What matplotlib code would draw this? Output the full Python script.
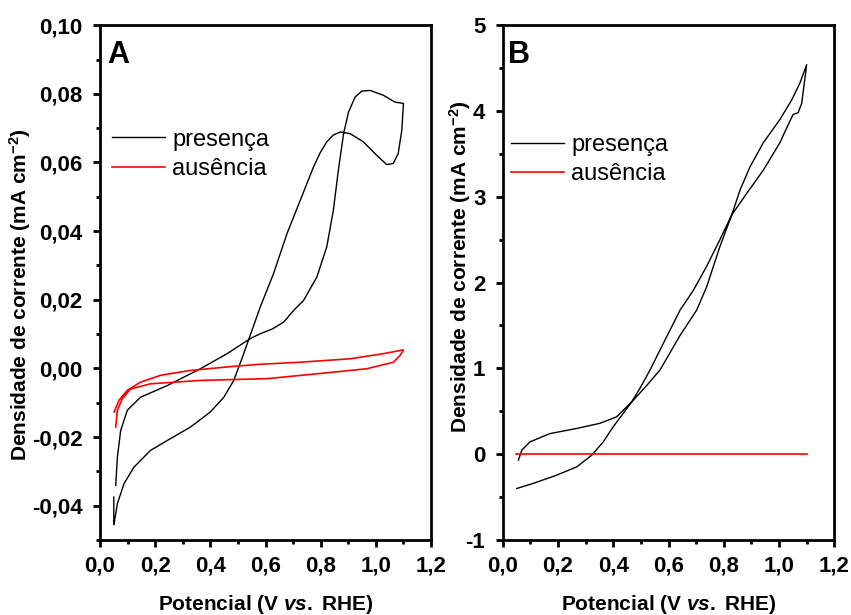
import matplotlib
matplotlib.use("Agg")
import matplotlib.pyplot as plt
from matplotlib.ticker import FixedLocator, FuncFormatter

# Panel A - voltammogram, presence (black) and absence (red)
a_pres_x = [0.050, 0.050, 0.051, 0.063, 0.087, 0.123, 0.183, 0.244, 0.328, 0.400, 0.449, 0.485,
            0.521, 0.551, 0.581, 0.629, 0.678, 0.726, 0.774, 0.798, 0.822, 0.846, 0.871, 0.907,
            0.955, 1.003, 1.039, 1.063, 1.081, 1.094, 1.100,
            1.069, 1.027, 0.979, 0.949, 0.925, 0.901, 0.883, 0.864, 0.846, 0.822, 0.786, 0.738,
            0.702, 0.666, 0.625, 0.581, 0.545, 0.461, 0.364, 0.244, 0.147, 0.099, 0.075, 0.063,
            0.057]
a_pres_y = [-0.0375, -0.0455, -0.0453, -0.0394, -0.0336, -0.0288, -0.0239, -0.0210, -0.0171,
            -0.0127, -0.0084, -0.0035, 0.0043, 0.0111, 0.0179, 0.0276, 0.0393, 0.0490, 0.0587,
            0.0628, 0.0660, 0.0680, 0.0689, 0.0684, 0.0660, 0.0621, 0.0594, 0.0597, 0.0626,
            0.0694, 0.0772,
            0.0776, 0.0796, 0.0810, 0.0808, 0.0791, 0.0747, 0.0684, 0.0577, 0.0461, 0.0354,
            0.0266, 0.0198, 0.0169, 0.0135, 0.0115, 0.0101, 0.0087, 0.0043, -0.0001, -0.0050,
            -0.0084, -0.0122, -0.0181, -0.0259, -0.0341]

a_aus_x = [0.051, 0.069, 0.099, 0.147, 0.220, 0.328, 0.485, 0.581, 0.726, 0.907, 1.028, 1.100,
           1.088, 1.064, 0.967, 0.846, 0.605, 0.364, 0.183, 0.111, 0.081, 0.063, 0.057]
a_aus_y = [-0.0127, -0.0093, -0.0064, -0.0040, -0.0020, -0.0006, 0.0006, 0.0012, 0.0018, 0.0028,
           0.0043, 0.0054, 0.0038, 0.0018, -0.0001, -0.0011, -0.0030, -0.0035, -0.0045, -0.0060,
           -0.0088, -0.0122, -0.0171]

# Panel B
b_pres_x = [0.051, 0.111, 0.195, 0.268, 0.322, 0.364, 0.400, 0.436, 0.467, 0.497, 0.533, 0.581,
            0.642, 0.690, 0.738, 0.786, 0.829, 0.883, 0.943, 1.003, 1.033, 1.051, 1.069, 1.082,
            1.090, 1.100,
            1.076, 1.046, 1.003, 0.943, 0.895, 0.859, 0.829, 0.786, 0.738, 0.702, 0.641, 0.569,
            0.521, 0.467, 0.412, 0.352, 0.268, 0.171, 0.099, 0.069, 0.057]
b_pres_y = [-0.40, -0.34, -0.245, -0.148, -0.012, 0.144, 0.32, 0.475, 0.61, 0.77, 0.98, 1.29,
            1.68, 1.91, 2.19, 2.50, 2.79, 3.04, 3.31, 3.63, 3.84, 3.96, 3.98, 4.09, 4.29, 4.54,
            4.33, 4.13, 3.90, 3.63, 3.35, 3.08, 2.79, 2.42, 1.95, 1.68, 1.38, 0.98, 0.80, 0.61,
            0.435, 0.36, 0.30, 0.24, 0.144, 0.047, -0.07]

b_aus_x = [0.048, 1.100]
b_aus_y = [0.0, 0.0]

labels = ["presença", "ausência"]
x_ticks = [0.0, 0.2, 0.4, 0.6, 0.8, 1.0, 1.2]
a_yticks = [-0.04, -0.02, 0.00, 0.02, 0.04, 0.06, 0.08, 0.10]
b_yticks = [-1, 0, 1, 2, 3, 4, 5]

plt.rcParams["font.family"] = "Liberation Sans"
plt.rcParams["mathtext.fontset"] = "custom"
plt.rcParams["mathtext.rm"] = "Liberation Sans:bold"
plt.rcParams["mathtext.it"] = "Liberation Sans:bold:italic"
plt.rcParams["mathtext.bf"] = "Liberation Sans:bold"


def comma(fmt):
    return FuncFormatter(lambda v, p: fmt.format(v).replace(".", ","))


def style_axes(ax, yticks, yfmt, ylim, minor_y):
    ax.set_xlim(0.0, 1.2)
    ax.set_ylim(*ylim)
    ax.xaxis.set_major_locator(FixedLocator(x_ticks))
    ax.xaxis.set_minor_locator(FixedLocator([0.1, 0.3, 0.5, 0.7, 0.9, 1.1]))
    ax.xaxis.set_major_formatter(comma("{:.1f}"))
    ax.yaxis.set_major_locator(FixedLocator(yticks))
    ax.yaxis.set_minor_locator(FixedLocator(minor_y))
    ax.yaxis.set_major_formatter(comma(yfmt))
    ax.tick_params(which="major", direction="out", length=5, width=2, pad=6, labelsize=16)
    ax.tick_params(axis="y", which="major", pad=7.5)
    ax.tick_params(which="minor", direction="out", length=3, width=2)
    for lab in ax.get_xticklabels() + ax.get_yticklabels():
        lab.set_fontweight("bold")
    for sp in ax.spines.values():
        sp.set_linewidth(2)
    ax.set_xlabel(r"Potencial (V $\mathit{vs.}$ RHE)", fontsize=15, fontweight="bold", labelpad=12)
    ax.set_ylabel(r"Densidade de corrente (mA cm$^{-2}$)", fontsize=15, fontweight="bold")


def add_legend(ax, x, y):
    ax.legend(loc="center left", bbox_to_anchor=(x, y), frameon=False, fontsize=17,
              handlelength=2.25, handletextpad=0.3, labelspacing=0.32, borderpad=0, borderaxespad=0)


fig = plt.figure(figsize=(8.51, 6.15), dpi=100)
ax1 = fig.add_axes([0.1175, 0.122, 0.389, 0.837])
ax2 = fig.add_axes([0.5907, 0.122, 0.3897, 0.837])

ax1.plot(a_pres_x, a_pres_y, color="black", lw=1.0, label=labels[0])
ax1.plot(a_aus_x, a_aus_y, color="red", lw=1.2, label=labels[1])
style_axes(ax1, a_yticks, "{:.2f}", (-0.05, 0.10), [-0.05, -0.03, -0.01, 0.01, 0.03, 0.05, 0.07, 0.09])
ax1.yaxis.set_label_coords(-0.202, 0.476)
ax1.text(0.021, 0.972, "A", transform=ax1.transAxes, fontsize=22, fontweight="bold", va="top", ha="left")
add_legend(ax1, 0.036, 0.749)

ax2.plot(b_pres_x, b_pres_y, color="black", lw=1.0, label=labels[0])
ax2.plot(b_aus_x, b_aus_y, color="red", lw=1.2, label=labels[1])
style_axes(ax2, b_yticks, "{:.0f}", (-1, 5), [-0.5, 0.5, 1.5, 2.5, 3.5, 4.5])
ax2.yaxis.set_label_coords(-0.09, 0.532)
ax2.text(0.016, 0.972, "B", transform=ax2.transAxes, fontsize=22, fontweight="bold", va="top", ha="left")
add_legend(ax2, 0.025, 0.739)

fig.savefig("out.png", dpi=100)
